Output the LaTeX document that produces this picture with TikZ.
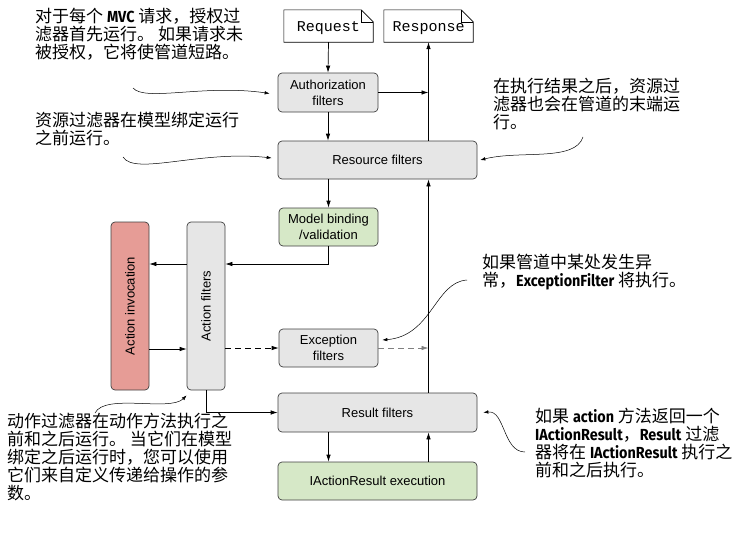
\documentclass[tikz,border=0pt]{standalone}
\usepackage{fontspec}
\setmainfont{Liberation Sans}
\setmonofont{Liberation Mono}
\newfontfamily\cjk{Noto Sans CJK SC}
\newfontfamily\latb{Fira Sans}[FakeStretch=0.9]
\usepackage{xcolor}
\usepackage{tikz}
\usetikzlibrary{arrows.meta}

\definecolor{boxgray}{RGB}{230,230,230}
\definecolor{boxgreen}{RGB}{214,232,199}
\definecolor{boxred}{RGB}{230,156,150}
\newcommand{\kw}[1]{{\latb\bfseries\fontsize{16}{18}\selectfont #1}}

\begin{document}
\begin{tikzpicture}[x=1pt,y=-1pt,
    filt/.style={draw=black!75, fill=boxgray, rounded corners=4pt, line width=0.7pt,
      align=center, inner sep=0pt, font=\fontsize{13}{16}\selectfont},
    doc/.style={align=center, inner sep=0pt, minimum width=89pt, minimum height=32pt,
      text height=10pt, text depth=0pt, font=\ttfamily\fontsize{15}{18}\selectfont},
    note/.style={anchor=north west, align=left, inner sep=0pt,
      font=\cjk\fontsize{17}{18}\selectfont},
    flow/.style={-{Latex[length=7pt,width=4.5pt]}, line width=0.7pt},
    hint/.style={-{Latex[length=5pt,width=3.5pt]}, line width=0.5pt}]
    \useasboundingbox (0,0) rectangle (741,533);

    \node[doc] (req) at (328.5,26) {Request};
    \node[doc] (resp) at (428.5,26) {Response};
    \foreach \d in {req,resp} {
        \draw[line width=0.6pt] (\d.north west) -- ([xshift=-12pt]\d.north east)
            -- ([yshift=-12pt]\d.north east) -- (\d.south east) -- (\d.south west) -- cycle;
        \draw[line width=0.6pt] ([xshift=-12pt]\d.north east) |- ([yshift=-12pt]\d.north east);
    }

    \node[filt, minimum width=100pt, minimum height=39pt] (auth) at (328,92.5) {Authorization\\filters};
    \node[filt, minimum width=199pt, minimum height=38pt] (res) at (377.5,160) {Resource filters};
    \node[filt, fill=boxgreen, minimum width=99pt, minimum height=38pt] (mb) at (328.5,227) {Model binding\\/validation};
    \node[filt, minimum width=38pt, minimum height=168pt] (af) at (206,306) {\rotatebox{90}{Action filters}};
    \node[filt, fill=boxred, minimum width=38pt, minimum height=168pt] (ai) at (130,306) {\rotatebox{90}{Action invocation}};
    \node[filt, minimum width=99pt, minimum height=38pt] (ex) at (328.5,348) {Exception\\filters};
    \node[filt, minimum width=199pt, minimum height=39pt] (rf) at (377.5,412.5) {Result filters};
    \node[filt, fill=boxgreen, minimum width=199pt, minimum height=38pt] (iar) at (377.5,481) {IActionResult execution};

    \draw[flow] (req.south) -- (auth.north);
    \draw[flow] (auth.east) -- (auth.east -| resp);
    \draw[flow] (resp |- res.north) -- (resp.south);
    \draw[flow] (auth.south) -- (auth.south |- res.north);
    \draw[flow] (mb.north |- res.south) -- (mb.north);
    \draw[flow] (mb.south) |- ([yshift=42pt]af.east);
    \draw[flow] ([yshift=42pt]af.west) -- ([yshift=42pt]ai.east);
    \draw[flow] ([yshift=-43pt]ai.east) -- ([yshift=-43pt]af.west);
    \draw[flow, dash pattern=on 6pt off 4pt] (ex.west -| af.east) -- (ex.west);
    \draw[flow, dash pattern=on 6pt off 4pt, gray] (ex.east) -- (ex.east -| resp);
    \draw[flow] (rf.north -| resp) -- (res.south -| resp);
    \draw[flow] (af.south) |- (rf.west);
    \draw[flow] (rf.south -| mb) -- (iar.north -| mb);
    \draw[flow] (iar.north -| resp) -- (rf.south -| resp);

    \node[note] (n1) at (35,8) {对于每个 \kw{MVC} 请求，授权过\\滤器首先运行。 如果请求未\\被授权，它将使管道短路。};
    \node[note] (n2) at (35,112) {资源过滤器在模型绑定运行\\之前运行。};
    \node[note] (n3) at (493,78) {在执行结果之后，资源过\\滤器也会在管道的末端运\\行。};
    \node[note] (n4) at (482,254) {如果管道中某处发生异\\常，\kw{ExceptionFilter} 将执行。};
    \node[note] (n5) at (535,408) {如果 \kw{action} 方法返回一个\\\kw{IActionResult}，\kw{Result} 过滤\\器将在 \kw{IActionResult} 执行之\\前和之后执行。};
    \node[note] (n6) at (7,413) {动作过滤器在动作方法执行之\\前和之后运行。 当它们在模型\\绑定之后运行时，您可以使用\\它们来自定义传递给操作的参\\数。};

    \coordinate (s1) at (133,88);
    \coordinate (s2) at (123,157);
    \coordinate (s3) at (583,137);
    \coordinate (s4) at (467,280);
    \coordinate (s5) at (525,452);
    \coordinate (s6) at (95,413);
    \draw[hint] (s1) .. controls (145,102) and (205,84) .. ([xshift=-8pt,yshift=-1pt]auth.west);
    \draw[hint] (s2) .. controls (135,176) and (200,150) .. ([xshift=-6pt,yshift=2pt]res.west);
    \draw[hint] (s3) .. controls (575,162) and (520,150) .. ([xshift=3pt]res.east);
    \draw[hint] (s4) .. controls (435,282) and (432,336) .. ([xshift=4pt,yshift=8pt]ex.east);
    \draw[hint] (s5) .. controls (503,452) and (505,410) .. ([xshift=6pt]rf.east);
    \draw[hint] (s6) .. controls (105,393) and (170,412) .. ([yshift=-5pt]af.south west);
\end{tikzpicture}
\end{document}
